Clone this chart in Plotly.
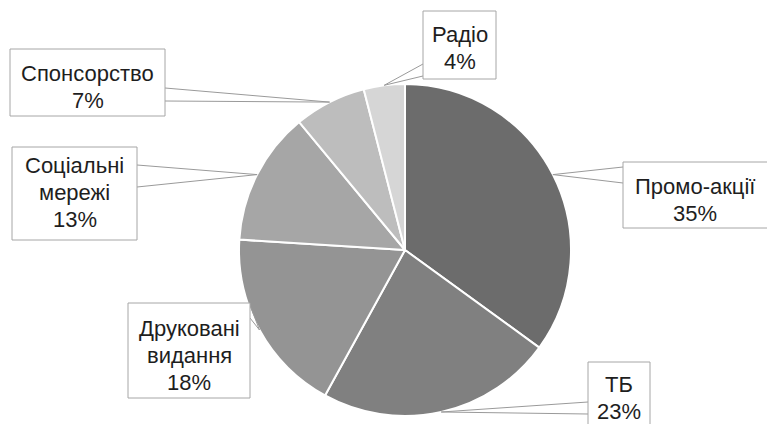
import math
import plotly.graph_objects as go

# ---- data ----
categories = ["Промо-акції", "ТБ", "Друковані видання", "Соціальні мережі", "Спонсорство", "Радіо"]
shares = [35, 23, 18, 13, 7, 4]
label_lines = [["Промо-акції"], ["ТБ"], ["Друковані", "видання"], ["Соціальні", "мережі"], ["Спонсорство"], ["Радіо"]]
colors = ["#6c6c6c", "#808080", "#949494", "#a6a6a6", "#bdbdbd", "#d6d6d6"]

# ---- layout constants (pixels) ----
W, H = 767, 424
CX, CY, R = 405, 250, 166
FONT = "Liberation Sans, Arial, sans-serif"
FS = 22
LINE = 27
boxes = [
    dict(box=(623, 162, 770, 228), y0=186, a=(623, 167), b=(623, 183)),
    dict(box=(588, 362, 650, 432), y0=384, a=(588, 402), b=(588, 414)),
    dict(box=(128, 303, 250, 398), y0=328, a=(250, 305), b=(250, 318)),
    dict(box=(12, 147, 137, 240), y0=165, a=(137, 165), b=(137, 187)),
    dict(box=(10, 49, 165, 116), y0=73, a=(165, 88), b=(165, 101)),
    dict(box=(423, 11, 496, 79), y0=34, a=(423, 64), b=(423, 76)),
]

fig = go.Figure()
fig.add_trace(go.Pie(
    labels=categories, values=shares, sort=False, direction="clockwise", rotation=0,
    marker=dict(colors=colors, line=dict(color="white", width=2)),
    textinfo="none", hoverinfo="label+percent", showlegend=False,
    domain=dict(x=[(CX - R) / W, (CX + R) / W], y=[1 - (CY + R) / H, 1 - (CY - R) / H]),
))
fig.add_trace(go.Scatter(x=[0, W], y=[0, H], mode="markers", marker=dict(opacity=0),
                         hoverinfo="skip", showlegend=False))

total = sum(shares)
cum = 0
shapes = []
annotations = []
for cat, v, lines, bx in zip(categories, shares, label_lines, boxes):
    mid = (cum + v / 2) / total * 2 * math.pi
    cum += v
    px = CX + R * math.sin(mid)
    py = CY - R * math.cos(mid)
    l, t, r, btm = bx["box"]
    ax, ay = bx["a"]
    bx2, by2 = bx["b"]
    shapes.append(dict(type="path", xref="x", yref="y",
                       path=f"M {ax},{ay} L {px:.1f},{py:.1f} L {bx2},{by2}",
                       line=dict(color="#9a9a9a", width=1)))
    shapes.append(dict(type="rect", xref="x", yref="y", x0=l, x1=r, y0=t, y1=btm,
                       line=dict(color="#a6a6a6", width=1), fillcolor="white"))
    cx_text = (l + min(r, W)) / 2
    for i, txt in enumerate(lines + [f"{v}%"]):
        annotations.append(dict(x=cx_text, y=bx["y0"] + i * LINE,
                                xref="x", yref="y", text=txt, showarrow=False,
                                font=dict(family=FONT, size=FS, color="#1e1e1e"),
                                xanchor="center", yanchor="middle"))

fig.update_layout(
    width=W, height=H, margin=dict(l=0, r=0, t=0, b=0),
    paper_bgcolor="white", plot_bgcolor="rgba(0,0,0,0)",
    xaxis=dict(range=[0, W], visible=False, fixedrange=True),
    yaxis=dict(range=[H, 0], visible=False, fixedrange=True),
    shapes=shapes, annotations=annotations,
)
fig.write_html("out.html", config={"displayModeBar": False},
               post_script="document.body.style.margin='0';document.body.style.overflow='hidden';")
